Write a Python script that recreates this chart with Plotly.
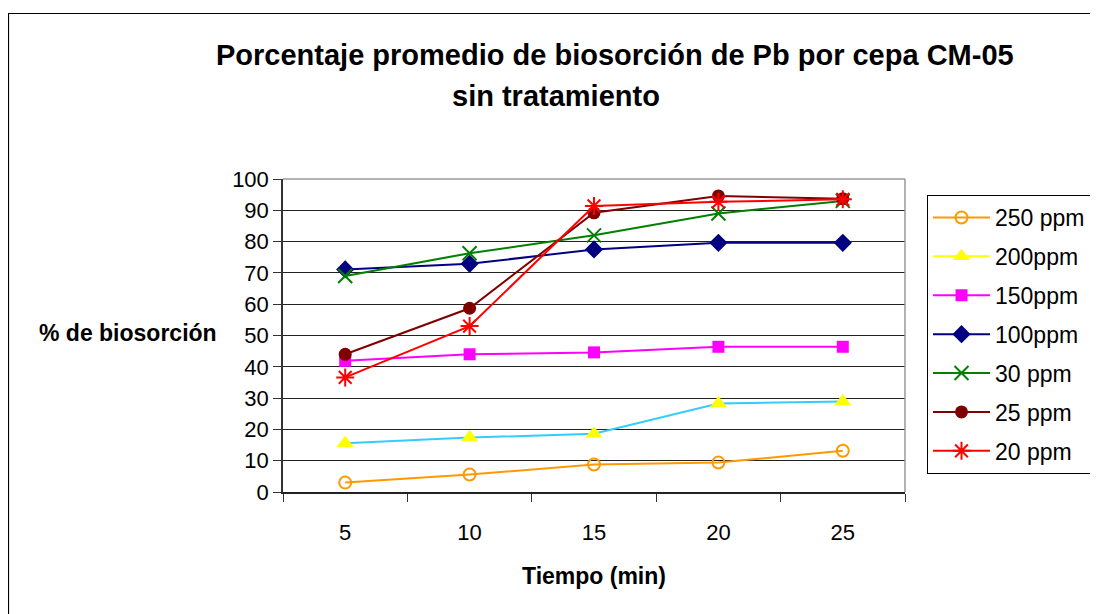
import plotly.graph_objects as go

tiempo = ["5", "10", "15", "20", "25"]

ppm_250 = [3.0, 5.6, 8.8, 9.4, 13.2]
ppm_200 = [15.6, 17.4, 18.6, 28.3, 28.9]
ppm_150 = [41.9, 44.0, 44.6, 46.4, 46.4]
ppm_100 = [71.1, 72.9, 77.5, 79.6, 79.6]
ppm_30 = [69.0, 76.3, 82.0, 89.0, 93.0]
ppm_25 = [44.0, 58.7, 89.2, 94.6, 93.7]
ppm_20 = [36.6, 53.0, 91.4, 92.7, 93.5]

FONT = "Liberation Sans, Arial, sans-serif"

# page offset of the figure (body margin)
OFF = 8
# plot area in page pixels
L, R, T, B = 283, 905, 179, 492
W, H = 1098, 614

def px(x):
    return (x - L) / (R - L)

def py(y):
    return (B - y) / (B - T)

series = [
    ("250 ppm", ppm_250, "#FF9900", "#FF9900", "circle-open", 12),
    ("200ppm", ppm_200, "#33CCFF", "#FFFF00", "triangle-up", 15),
    ("150ppm", ppm_150, "#FF00FF", "#FF00FF", "square", 12),
    ("100ppm", ppm_100, "#000080", "#000080", "diamond", 14),
    ("30 ppm", ppm_30, "#008000", "#008000", "x-thin-open", 14),
    ("25 ppm", ppm_25, "#800000", "#800000", "circle", 13),
    ("20 ppm", ppm_20, "#FF0000", "#FF0000", "asterisk-open", 15),
]

fig = go.Figure()
for i, (name, vals, lc, mc, sym, size) in enumerate(series):
    own_legend = lc == mc
    fig.add_trace(go.Scatter(
        x=tiempo, y=vals, mode="lines+markers", name=name,
        line=dict(color=lc, width=2),
        marker=dict(symbol=sym, size=size, color=mc,
                    line=dict(color=mc, width=2 if "open" in sym else 0)),
        legendgroup=str(i), showlegend=own_legend,
    ))
    if not own_legend:
        # legend entry drawn with the marker colour, as in the original
        fig.add_trace(go.Scatter(
            x=[None], y=[None], mode="lines+markers", name=name,
            line=dict(color=mc, width=2),
            marker=dict(symbol=sym, size=size, color=mc),
            legendgroup=str(i), showlegend=True,
        ))

fig.update_xaxes(
    type="category", range=[-0.5, 4.5], tickson="boundaries",
    ticks="outside", ticklen=8, tickcolor="#333333",
    showline=True, linecolor="#222222", linewidth=1.5,
    showgrid=False, ticklabelstandoff=20,
    tickfont=dict(family=FONT, size=22, color="black"),
)
fig.update_yaxes(
    range=[0, 100], dtick=10, ticks="outside", ticklen=8,
    tickcolor="#333333", showline=True, linecolor="#333333", linewidth=1.5,
    showgrid=True, gridcolor="#222222", gridwidth=1, zeroline=False,
    tickfont=dict(family=FONT, size=22, color="black"),
)

# grey top and right border of the plot area, outer chart frame
fig.add_shape(type="line", xref="paper", yref="paper", x0=0, x1=1, y0=1, y1=1,
              line=dict(color="#999999", width=1.5))
fig.add_shape(type="line", xref="paper", yref="paper", x0=1, x1=1, y0=0, y1=1,
              line=dict(color="#999999", width=1.5))
fig.add_shape(type="rect", xref="paper", yref="paper",
              x0=px(8.5), x1=px(1200), y0=py(700), y1=py(13.5),
              line=dict(color="black", width=1.2))

fig.add_annotation(text="<b>Porcentaje promedio de biosorción de Pb por cepa CM-05</b>",
                   xref="paper", yref="paper", x=px(615), y=py(55),
                   xanchor="center", yanchor="middle",
                   showarrow=False, font=dict(family=FONT, size=29, color="black"))
fig.add_annotation(text="<b>sin tratamiento</b>",
                   xref="paper", yref="paper", x=px(556), y=py(96),
                   xanchor="center", yanchor="middle",
                   showarrow=False, font=dict(family=FONT, size=29, color="black"))
fig.add_annotation(text="<b>% de biosorción</b>",
                   xref="paper", yref="paper", x=px(219), y=py(333),
                   xanchor="right", yanchor="middle",
                   showarrow=False, font=dict(family=FONT, size=23, color="black"))
fig.add_annotation(text="<b>Tiempo (min)</b>",
                   xref="paper", yref="paper", x=px(594), y=py(576),
                   xanchor="center", yanchor="middle",
                   showarrow=False, font=dict(family=FONT, size=23, color="black"))

fig.update_layout(
    width=W, height=H,
    margin=dict(l=L - OFF, r=W - R + OFF, t=T - OFF, b=H - B + OFF),
    paper_bgcolor="white", plot_bgcolor="white",
    showlegend=True,
    legend=dict(
        x=px(927), y=py(195), xanchor="left", yanchor="top",
        bordercolor="black", borderwidth=1, bgcolor="white",
        font=dict(family=FONT, size=23, color="black"),
        tracegroupgap=6, itemwidth=57,
    ),
)

fig.write_html("out.html")
